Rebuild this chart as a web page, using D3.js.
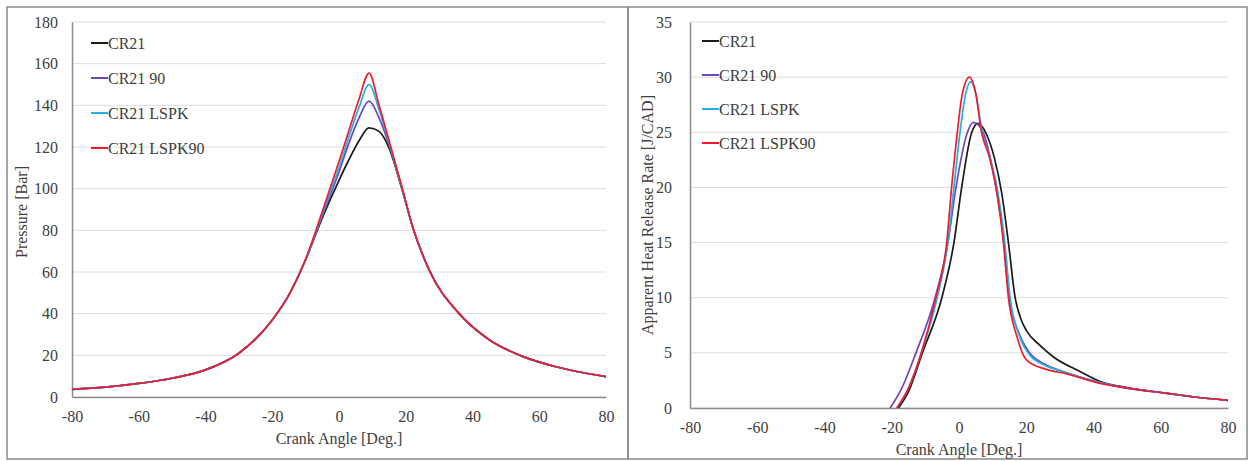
<!DOCTYPE html>
<html><head><meta charset="utf-8">
<script src="https://cdn.jsdelivr.net/npm/d3@7"></script>
<style>body{margin:0;background:#fff}svg{display:block}text{font-family:"Liberation Serif","Times New Roman",serif;fill:#404040}</style>
</head><body><svg id="c" width="1251" height="461"></svg>
<script>
// ---------- data ----------
const seriesNames = ["CR21", "CR21 90", "CR21 LSPK", "CR21 LSPK90"];
const seriesColors = ["#1a1a1a", "#6f45bf", "#22b0e6", "#ee1c2e"];
const xTicks = [-80, -60, -40, -20, 0, 20, 40, 60, 80];
const pressureTicks = [0, 20, 40, 60, 80, 100, 120, 140, 160, 180];
const hrrTicks = [0, 5, 10, 15, 20, 25, 30, 35];

// Pressure [Bar] vs crank angle
const pAngles =   [-80, -70, -60, -50, -40, -30, -20, -15, -10, -5, 0, 3, 6, 9, 12, 15, 19, 22, 27, 36, 45, 55, 65, 80];
const pCR21 =     [3.7, 4.7, 6.5, 9, 13, 21, 37, 49, 66, 86, 104, 114, 123, 129.2, 127.5, 119.5, 99, 82, 61, 40, 27.5, 19.5, 14.5, 9.8];
const pCR21_90 =  [3.7, 4.7, 6.5, 9, 13, 21, 37, 49, 66, 87, 108, 122, 134, 142, 134, 121, 99.5, 82, 61, 40, 27.5, 19.5, 14.5, 9.8];
const pLSPK =     [3.7, 4.7, 6.5, 9, 13, 21, 37, 49, 66, 88, 110, 125, 139, 150, 138, 122, 99.5, 82, 61, 40, 27.5, 19.5, 14.5, 9.8];
const pLSPK90 =   [3.7, 4.7, 6.5, 9, 13, 21, 37, 49, 66, 89, 113, 128, 143, 155.5, 140, 123, 100, 82, 61, 40, 27.5, 19.5, 14.5, 9.8];

// Apparent heat release rate [J/CAD] vs crank angle
const hAngCR21 =  [-18, -15, -10.9, -5.1, -1.5, 0.8, 3.8, 5.7, 8.2, 10.5, 12.7, 14.7, 16.7, 18.5, 20.1, 24, 28, 36, 42, 50, 62, 70, 80];
const hCR21 =     [0, 1.5, 5, 10, 15, 20, 25, 25.8, 24.8, 22.7, 19.5, 15, 10, 8, 7, 5.7, 4.65, 3.3, 2.4, 1.85, 1.33, 1.0, 0.7];
const hAng90 =    [-20.5, -17, -12.8, -7.1, -3.3, -0.9, 2.5, 4.3, 7.2, 9.2, 11, 13.4, 15, 17.8, 21, 26, 32, 42, 50, 62, 70, 80];
const hCR21_90 =  [0, 1.8, 5, 10, 15, 20, 25, 25.9, 25, 22.8, 20, 15, 10, 6.8, 5.0, 3.9, 3.2, 2.3, 1.8, 1.33, 1.0, 0.7];
const hAngLSPK =  [-18.5, -15, -11.2, -6.5, -3.3, -1.5, 0.3, 2, 3.5, 5, 6.9, 9.2, 11.3, 13.6, 15.2, 18, 21, 26, 32, 42, 50, 62, 70, 80];
const hLSPK =     [0, 1.8, 5, 10, 15, 20, 25, 28.5, 29.6, 28.5, 25, 22.7, 20, 15, 10, 6.5, 4.8, 3.8, 3.2, 2.3, 1.8, 1.33, 1.0, 0.7];
const hAngLSPK90 = [-18.5, -15, -11.2, -6.9, -3.65, -2.2, -0.5, 1, 3.1, 5, 6.7, 9, 11, 13.2, 14.7, 17.2, 20.1, 26, 32, 42, 50, 62, 70, 80];
const hLSPK90 =   [0, 1.8, 5, 10, 15, 20, 25, 28.5, 30, 28.5, 25, 22.8, 20, 15, 10, 6.5, 4.35, 3.5, 3.1, 2.24, 1.8, 1.33, 1.0, 0.7];

// ---------- drawing ----------
const svg = d3.select("#c");
const zip = (xs, ys) => xs.map((x, i) => ({x, y: ys[i]}));

// panel frames
svg.append("rect").attr("x", 7).attr("y", 7).attr("width", 621).attr("height", 452)
  .attr("fill", "none").attr("stroke", "#8a8a8a").attr("stroke-width", 1.5);
svg.append("rect").attr("x", 628).attr("y", 7).attr("width", 619).attr("height", 452)
  .attr("fill", "none").attr("stroke", "#8a8a8a").attr("stroke-width", 1.5);

function panel(cfg) {
  const x = d3.scaleLinear().domain([-80, 80]).range(cfg.xr);
  const y = d3.scaleLinear().domain(cfg.yd).range(cfg.yr);
  const g = svg.append("g");
  // gridlines
  g.append("g").selectAll("line").data(cfg.yTicks).join("line")
    .attr("x1", cfg.xr[0]).attr("x2", cfg.xr[1])
    .attr("y1", d => y(d)).attr("y2", d => y(d))
    .attr("stroke", "#dcdcdc").attr("stroke-width", 1);
  // axes
  const yAxis = d3.axisLeft(y).tickValues(cfg.yTicks).tickSize(0).tickPadding(cfg.yPad)
    .tickFormat(d => String(d));
  const ya = g.append("g").attr("transform", `translate(${cfg.xr[0]},0)`).call(yAxis);
  ya.select(".domain").attr("stroke", "#8c8c8c").attr("stroke-width", 1.5);
  ya.selectAll("text").style("font-size", "16px").attr("fill", "#404040")
    .style("font-family", '"Liberation Serif",serif');
  const xAxis = d3.axisBottom(x).tickValues(xTicks).tickSize(0).tickPadding(14)
    .tickFormat(d => String(d));
  const xa = g.append("g").attr("transform", `translate(0,${cfg.yr[0]})`).call(xAxis);
  xa.select(".domain").attr("stroke", "#8c8c8c").attr("stroke-width", 1.5);
  xa.selectAll("text").style("font-size", "16px").attr("fill", "#404040")
    .style("font-family", '"Liberation Serif",serif');
  // lines
  const line = d3.line().x(d => x(d.x)).y(d => y(d.y)).curve(d3.curveMonotoneX);
  cfg.series.forEach((s, i) => {
    g.append("path").datum(s).attr("d", line).attr("fill", "none")
      .attr("stroke", seriesColors[i]).attr("stroke-width", 1.7);
  });
  // axis titles
  g.append("text").attr("x", (cfg.xr[0] + cfg.xr[1]) / 2).attr("y", cfg.xTitleY)
    .attr("text-anchor", "middle").style("font-size", "16px").text("Crank Angle [Deg.]");
  g.append("text").attr("transform", `translate(${cfg.yTitleX},${cfg.yTitleY}) rotate(-90)`)
    .attr("text-anchor", "middle").style("font-size", "16px").text(cfg.yTitle);
  // legend
  const lg = g.append("g").selectAll("g").data(seriesNames).join("g")
    .attr("transform", (d, i) => `translate(${cfg.legX},${cfg.legY + i * cfg.legStep})`);
  lg.append("line").attr("x1", 0).attr("x2", 17).attr("y1", 0).attr("y2", 0)
    .attr("stroke", (d, i) => seriesColors[i]).attr("stroke-width", 2);
  lg.append("text").attr("x", 17).attr("y", 5.5).style("font-size", "16px").text(d => d);
}

panel({
  xr: [72, 606], yr: [397, 22], yd: [0, 180], yTicks: pressureTicks, yPad: 14,
  series: [zip(pAngles, pCR21), zip(pAngles, pCR21_90), zip(pAngles, pLSPK), zip(pAngles, pLSPK90)],
  xTitleY: 444, yTitleX: 27, yTitleY: 212, yTitle: "Pressure [Bar]",
  legX: 91, legY: 43, legStep: 35
});
panel({
  xr: [690, 1228], yr: [408, 22], yd: [0, 35], yTicks: hrrTicks, yPad: 18,
  series: [zip(hAngCR21, hCR21), zip(hAng90, hCR21_90), zip(hAngLSPK, hLSPK), zip(hAngLSPK90, hLSPK90)],
  xTitleY: 455, yTitleX: 653, yTitleY: 215, yTitle: "Apparent Heat Release Rate [J/CAD]",
  legX: 702, legY: 41, legStep: 34
});
</script></body></html>
